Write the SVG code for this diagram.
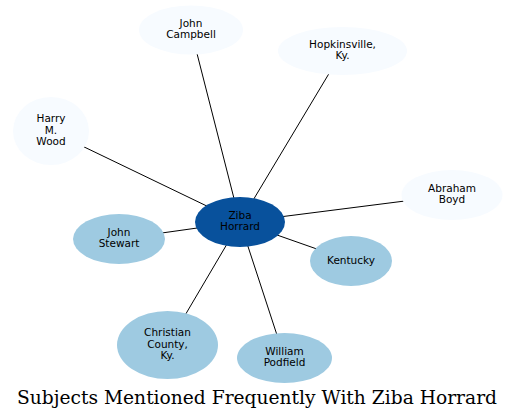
<svg xmlns="http://www.w3.org/2000/svg" width="516" height="419" viewBox="0 0 516 419">
<style>
.l{fill:#f7fbff}
.m{fill:#9ecae1}
.d{fill:#08519c}
text{font-family:"DejaVu Sans",sans-serif;font-size:10.5px;text-anchor:middle;fill:#000}
.e line{stroke:#000;stroke-width:1}
.t{font-family:"DejaVu Serif",serif;font-size:18.7px}
</style>
<rect width="516" height="419" fill="#fff"/>
<g class="e" id="edges">
<line x1="240" y1="222" x2="191" y2="30"/>
<line x1="240" y1="222" x2="342.5" y2="51"/>
<line x1="240" y1="222" x2="51" y2="131"/>
<line x1="240" y1="222" x2="119" y2="239"/>
<line x1="240" y1="222" x2="452" y2="195"/>
<line x1="240" y1="222" x2="351" y2="261"/>
<line x1="240" y1="222" x2="167.5" y2="345"/>
<line x1="240" y1="222" x2="284.5" y2="358"/>
</g>
<g id="john_campbell"><ellipse class="l" cx="191" cy="30" rx="52" ry="24.5"/><text x="191" y="26.8">John</text><text x="191" y="38.3">Campbell</text></g>
<g id="hopkinsville"><ellipse class="l" cx="342.5" cy="51" rx="64.5" ry="24"/><text x="342.5" y="47.8">Hopkinsville,</text><text x="342.5" y="59.3">Ky.</text></g>
<g id="harry_wood"><ellipse class="l" cx="51" cy="131" rx="38" ry="34"/><text x="51" y="122">Harry</text><text x="51" y="133.5">M.</text><text x="51" y="145">Wood</text></g>
<g id="john_stewart"><ellipse class="m" cx="119" cy="239" rx="46" ry="25"/><text x="119" y="235.8">John</text><text x="119" y="247.3">Stewart</text></g>
<g id="abraham_boyd"><ellipse class="l" cx="452" cy="195" rx="50.5" ry="25"/><text x="452" y="191.8">Abraham</text><text x="452" y="203.3">Boyd</text></g>
<g id="kentucky"><ellipse class="m" cx="351" cy="261" rx="41" ry="25"/><text x="351" y="264">Kentucky</text></g>
<g id="christian_county"><ellipse class="m" cx="167.5" cy="345" rx="50.5" ry="34"/><text x="167.5" y="336">Christian</text><text x="167.5" y="347.5">County,</text><text x="167.5" y="359">Ky.</text></g>
<g id="william_podfield"><ellipse class="m" cx="284.5" cy="358" rx="47.5" ry="25"/><text x="284.5" y="354.8">William</text><text x="284.5" y="366.3">Podfield</text></g>
<g id="ziba_horrard"><ellipse class="d" cx="240" cy="222" rx="45" ry="25"/><text x="240" y="218.8">Ziba</text><text x="240" y="230.3">Horrard</text></g>
<text class="t" x="257" y="404" textLength="480" lengthAdjust="spacingAndGlyphs">Subjects Mentioned Frequently With Ziba Horrard</text>
</svg>
